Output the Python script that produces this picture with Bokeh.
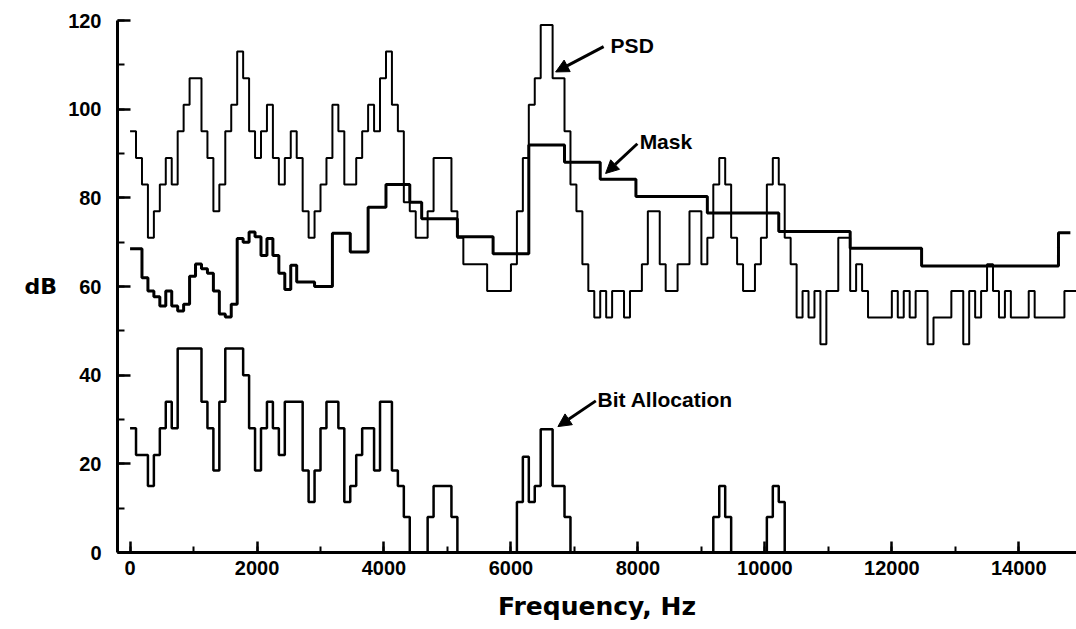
from bokeh.plotting import figure
from bokeh.models import Range1d, SingleIntervalTicker, Arrow, NormalHead, Label
from bokeh.embed import file_html
from bokeh.resources import INLINE

# ---------------- data (one value per 93.75 Hz frequency bin) ----------------
BIN_HZ = 93.75

psd_db = [
    95, 89, 83, 71, 77, 83, 89, 83, 95, 101,
    107, 107, 95, 89, 77, 83, 95, 101, 113, 107,
    95, 89, 95, 101, 89, 83, 89, 95, 89, 77,
    71, 77, 83, 89, 101, 95, 83, 83, 89, 95,
    101, 95, 107, 113, 101, 95, 79, 77, 71, 71,
    77, 89, 89, 89, 77, 71, 65, 65, 65, 65,
    59, 59, 59, 59, 65, 77, 89, 101, 107, 119,
    119, 107, 107, 95, 83, 77, 65, 59, 53, 59,
    53, 59, 59, 53, 59, 59, 65, 77, 77, 65,
    59, 59, 65, 65, 77, 77, 65, 71, 83, 89,
    83, 71, 65, 59, 59, 65, 71, 83, 89, 83,
    71, 65, 53, 59, 53, 59, 47, 59, 59, 71,
    71, 59, 65, 59, 53, 53, 53, 53, 59, 53,
    59, 53, 59, 59, 47, 53, 53, 53, 59, 59,
    47, 59, 53, 59, 65, 59, 53, 59, 53, 53,
    53, 59, 53, 53, 53, 53, 53, 59, 59,
]

mask_db = [
    68.5, 68.5, 62.0, 59.0, 57.7, 55.6, 59.0, 55.6, 54.5, 56.0,
    62.3, 65.1, 64.0, 63.0, 59.0, 53.8, 53.1, 56.0, 70.8, 70.0,
    72.3, 71.2, 67.0, 70.8, 67.0, 63.0, 59.3, 64.8, 61.0, 61.0,
    61.0, 60.0, 60.0, 60.0, 72.0, 72.0, 72.0, 67.8, 67.8, 67.8,
    77.9, 77.9, 77.9, 83.0, 83.0, 83.0, 83.0, 79.0, 79.0, 75.3,
    75.3, 75.3, 75.3, 75.3, 75.3, 71.2, 71.2, 71.2, 71.2, 71.2,
    71.2, 67.4, 67.4, 67.4, 67.4, 67.4, 67.4, 91.9, 91.9, 91.9,
    91.9, 91.9, 91.9, 88.0, 88.0, 88.0, 88.0, 88.0, 88.0, 84.2,
    84.2, 84.2, 84.2, 84.2, 84.2, 80.3, 80.3, 80.3, 80.3, 80.3,
    80.3, 80.3, 80.3, 80.3, 80.3, 80.3, 80.3, 76.6, 76.6, 76.6,
    76.6, 76.6, 76.6, 76.6, 76.6, 76.6, 76.6, 76.6, 76.6, 72.4,
    72.4, 72.4, 72.4, 72.4, 72.4, 72.4, 72.4, 72.4, 72.4, 72.4,
    72.4, 68.6, 68.6, 68.6, 68.6, 68.6, 68.6, 68.6, 68.6, 68.6,
    68.6, 68.6, 68.6, 64.6, 64.6, 64.6, 64.6, 64.6, 64.6, 64.6,
    64.6, 64.6, 64.6, 64.6, 64.6, 64.6, 64.6, 64.6, 64.6, 64.6,
    64.6, 64.6, 64.6, 64.6, 64.6, 64.6, 72.1, 72.1,
]

bit_alloc_db = [
    28, 22, 22, 15, 22, 28, 34, 28, 46, 46,
    46, 46, 34, 28, 18.5, 34, 46, 46, 46, 40,
    28, 18.5, 28, 34, 28, 22, 34, 34, 34, 18.5,
    11.4, 18.5, 28, 34, 34, 28, 11.4, 15, 22, 28,
    28, 18.5, 34, 34, 18.5, 15, 8, 0, 0, 0,
    8, 15, 15, 15, 8, 0, 0, 0, 0, 0,
    0, 0, 0, 0, 0, 11.4, 21.6, 11.4, 15, 27.8,
    27.8, 15, 15, 8, 0, 0, 0, 0, 0, 0,
    0, 0, 0, 0, 0, 0, 0, 0, 0, 0,
    0, 0, 0, 0, 0, 0, 0, 0, 8, 15,
    8, 0, 0, 0, 0, 0, 0, 8, 15, 11.4,
    0,
]

x_ticks_major = 2000
y_ticks_major = 20


def step_xy(vals):
    xs = [i * BIN_HZ for i in range(len(vals) + 1)]
    ys = list(vals) + [vals[-1]]
    return xs, ys


FONT = "Liberation Sans"

p = figure(
    width=1076, height=629,
    x_range=Range1d(-198, 14909), y_range=Range1d(0, 120),
    output_backend="svg", toolbar_location=None,
    min_border_left=117, min_border_right=0,
    min_border_top=20, min_border_bottom=77,
)
p.outline_line_color = None
p.xgrid.visible = False
p.ygrid.visible = False
p.background_fill_color = "white"
p.border_fill_color = "white"

xs, ys = step_xy(psd_db)
p.step(xs, ys, mode="after", line_color="black", line_width=2)
xs, ys = step_xy(mask_db)
p.step(xs, ys, mode="after", line_color="black", line_width=3)
xs, ys = step_xy(bit_alloc_db)
p.step(xs, ys, mode="after", line_color="black", line_width=2.5)

# axes
p.xaxis.ticker = SingleIntervalTicker(interval=x_ticks_major, num_minor_ticks=2)
p.yaxis.ticker = SingleIntervalTicker(interval=y_ticks_major, num_minor_ticks=2)
for ax in (p.xaxis[0], p.yaxis[0]):
    ax.axis_line_width = 3
    ax.axis_line_color = "black"
    ax.major_tick_line_width = 2.5
    ax.minor_tick_line_width = 2
    ax.major_tick_out = 0
    ax.minor_tick_out = 0
    ax.major_label_text_font = FONT
    ax.major_label_text_font_style = "bold"
    ax.major_label_text_font_size = "20px"
    ax.major_label_text_color = "black"
    ax.axis_label_text_font_style = "bold"
    ax.axis_label_text_color = "black"

p.yaxis.major_tick_in = 13
p.yaxis.minor_tick_in = 7
p.xaxis.major_tick_in = 11
p.xaxis.minor_tick_in = 6

p.yaxis.major_label_standoff = 16
p.xaxis.major_label_standoff = 8

p.xaxis.axis_label = "Frequency, Hz"
p.xaxis.axis_label_text_font = "DejaVu Sans"
p.xaxis.axis_label_text_font_size = "25px"
p.xaxis.axis_label_standoff = 14

p.yaxis.axis_label = "dB"
p.yaxis.axis_label_text_font = "DejaVu Sans"
p.yaxis.axis_label_text_font_size = "22px"
p.yaxis.axis_label_standoff = 8
p.yaxis.axis_label_orientation = "horizontal"

# annotations
head = dict(size=13, fill_color="black", line_color="black")
p.add_layout(Arrow(end=NormalHead(**head), x_start=7460, y_start=114.1,
                   x_end=6704, y_end=108.4, line_width=3))
p.add_layout(Arrow(end=NormalHead(**head), x_start=7991, y_start=92.2,
                   x_end=7491, y_end=85.5, line_width=3))
p.add_layout(Arrow(end=NormalHead(**head), x_start=7337, y_start=34.2,
                   x_end=6740, y_end=28.4, line_width=3))

for x, y, t in [(7570, 114.4, "PSD"), (8027, 92.7, "Mask"), (7365, 34.6, "Bit Allocation")]:
    p.add_layout(Label(x=x, y=y, text=t, text_baseline="middle", text_align="left",
                       text_font=FONT, text_font_style="bold", text_font_size="21px",
                       text_color="black"))

open("out.html", "w").write(file_html(p, INLINE))
